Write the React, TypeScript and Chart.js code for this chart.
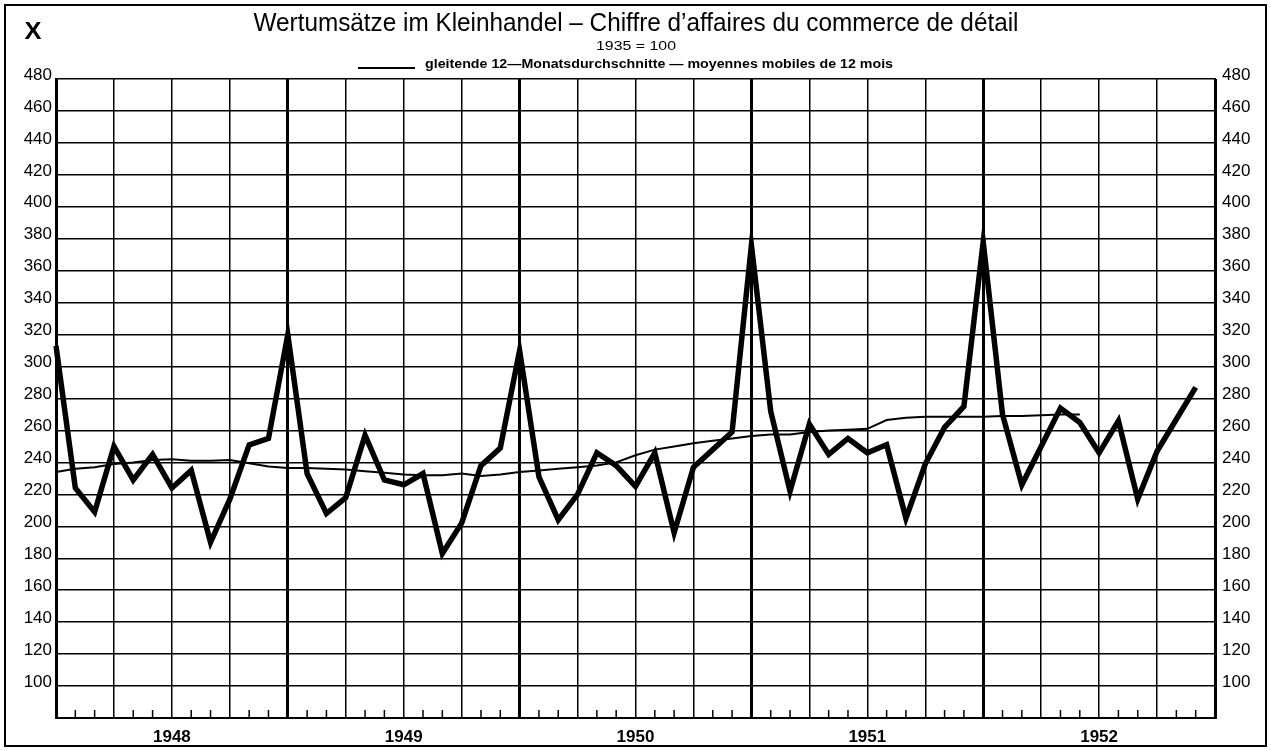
import React, { useEffect, useRef } from 'react';
import { Chart, registerables } from 'chart.js';

Chart.register(...registerables);

// ---- data -------------------------------------------------------------
const YEARS = ['1948', '1949', '1950', '1951', '1952'];
const MONTH_ABBR = ['Jan', 'Feb', 'Mär', 'Apr', 'Mai', 'Jun', 'Jul', 'Aug', 'Sep', 'Okt', 'Nov', 'Dez'];
// categories: Dec 1947 ... Dec 1952 (61 month positions)
const MONTHS: string[] = ['Dez 1947', ...YEARS.flatMap((y) => MONTH_ABBR.map((m) => `${m} ${y}`))];

// monthly retail turnover index (1935 = 100), Dec 1947 – Nov 1952
const RETAIL = [
  313, 224, 209, 250, 229, 245, 224, 235, 190, 217, 251, 255,
  320, 233, 208, 218, 257, 229, 226, 233, 183, 202, 238, 249,
  310, 231, 204, 220, 246, 238, 225, 246, 196, 237, 248, 259,
  376, 272, 222, 264, 245, 255, 246, 251, 205, 239, 262, 275,
  378, 270, 226, 250, 274, 265, 246, 266, 217, 247, 267, 287,
];

// 12-month moving average, Dec 1947 – May 1952
const MOVING_AVG = [
  234, 236, 237, 239, 240, 241.5, 242, 241, 241, 241.5, 239.5, 237.5,
  236.5, 236.5, 236, 235.5, 234.5, 233.5, 232.5, 232, 232, 233, 231.5, 232.5,
  234, 235, 236, 237, 238, 240, 244.5, 248, 250, 252, 253.5, 255,
  256.5, 257.5, 257.5, 259, 260, 260.5, 261, 266.5, 268, 268.5, 268.5, 268.5,
  268.5, 269, 269, 269.5, 270, 270,
];

const Y_MIN = 80;
const Y_MAX = 480;
const Y_STEP = 20;

const TITLE = 'Wertumsätze im Kleinhandel – Chiffre d’affaires du commerce de détail';
const SUBTITLE = '1935 = 100';
const LEGEND_TEXT = 'gleitende 12—Monatsdurchschnitte — moyennes mobiles de 12 mois';
const CORNER = 'X';

// ---- helpers ----------------------------------------------------------
const SANS = "'Liberation Sans', Arial, sans-serif";

function fitText(ctx: CanvasRenderingContext2D, text: string, x: number, y: number, width: number, font: string, align: 'left' | 'center' = 'center') {
  ctx.save();
  ctx.font = font;
  const w = ctx.measureText(text).width;
  ctx.translate(x, y);
  ctx.scale(width / w, 1);
  ctx.textAlign = align;
  ctx.textBaseline = 'alphabetic';
  ctx.fillStyle = '#000';
  ctx.fillText(text, 0, 0);
  ctx.restore();
}

const decorPlugin = {
  id: 'decor',
  beforeDraw(chart: any) {
    const ctx = chart.ctx as CanvasRenderingContext2D;
    ctx.save();
    ctx.fillStyle = '#fff';
    ctx.fillRect(0, 0, chart.width, chart.height);
    ctx.restore();
  },
  afterDraw(chart: any) {
    const ctx = chart.ctx as CanvasRenderingContext2D;
    const xs = chart.scales.x;
    const area = chart.chartArea;
    ctx.save();
    // month ticks inside the bottom of plot
    ctx.strokeStyle = '#000';
    ctx.lineWidth = 1.5;
    for (let i = 0; i < MONTHS.length; i++) {
      if (i % 3 === 0) continue;
      const px = xs.getPixelForTick(i);
      ctx.beginPath();
      ctx.moveTo(px, area.bottom - 8);
      ctx.lineTo(px, area.bottom);
      ctx.stroke();
    }
    // outer frame
    ctx.lineWidth = 2;
    ctx.strokeRect(5, 5, 1261, 741);
    // texts
    fitText(ctx, CORNER, 33, 39, 17, `bold 24px ${SANS}`);
    fitText(ctx, TITLE, 636, 31, 765, `26px ${SANS}`);
    fitText(ctx, SUBTITLE, 636, 50, 80, `12px ${SANS}`);
    // legend sample line
    ctx.lineWidth = 2;
    ctx.beginPath();
    ctx.moveTo(358, 68);
    ctx.lineTo(415, 68);
    ctx.stroke();
    fitText(ctx, LEGEND_TEXT, 425, 68, 468, `bold 13px ${SANS}`, 'left');
    ctx.restore();
  },
};

export default function App() {
  const ref = useRef<HTMLCanvasElement | null>(null);

  useEffect(() => {
    if (!ref.current) return;
    const tickFont = { family: SANS, size: 17 };
    const chart = new Chart(ref.current, {
      type: 'line',
      data: {
        labels: MONTHS,
        datasets: [
          {
            label: 'Wertumsätze',
            data: RETAIL,
            borderColor: '#000',
            borderWidth: 5.5,
            pointRadius: 0,
            tension: 0,
            borderJoinStyle: 'miter',
            borderCapStyle: 'butt',
            yAxisID: 'y',
          },
          {
            label: 'gleitende 12-Monatsdurchschnitte',
            data: MOVING_AVG,
            borderColor: '#000',
            borderWidth: 2,
            pointRadius: 0,
            tension: 0,
            yAxisID: 'y',
          },
        ],
      },
      options: {
        animation: false,
        responsive: false,
        layout: { padding: { top: 79, left: 0, right: 0, bottom: 0 } },
        plugins: {
          legend: { display: false },
          title: { display: false },
          tooltip: { enabled: false },
        },
        scales: {
          x: {
            type: 'category',
            offset: false,
            grid: {
              color: (c: any) => (c.index % 3 === 0 ? '#000' : 'rgba(0,0,0,0)'),
              lineWidth: (c: any) => (c.index % 12 === 0 ? 3 : 1.5),
              drawTicks: false,
            },
            border: { display: true, color: '#000', width: 2 },
            ticks: {
              autoSkip: false,
              maxRotation: 0,
              minRotation: 0,
              padding: 9,
              color: '#000',
              font: { family: SANS, size: 17, weight: 'bold' },
              callback: (_v: any, i: number) => (i % 12 === 6 ? YEARS[(i - 6) / 12] : ''),
            },
            afterFit: (s: any) => {
              s.height = 33;
            },
          },
          y: {
            position: 'left',
            min: Y_MIN,
            max: Y_MAX,
            ticks: {
              stepSize: Y_STEP,
              padding: 4,
              labelOffset: -4,
              color: '#000',
              font: tickFont,
              callback: (v: any) => (v === Y_MIN ? '' : String(v)),
            },
            grid: { color: '#000', lineWidth: 1.5, drawTicks: false },
            border: { display: true, color: '#000', width: 2.5 },
            afterFit: (s: any) => {
              s.width = 56;
            },
          },
          y2: {
            position: 'right',
            min: Y_MIN,
            max: Y_MAX,
            ticks: {
              stepSize: Y_STEP,
              padding: 7,
              labelOffset: -4,
              color: '#000',
              font: tickFont,
              callback: (v: any) => (v === Y_MIN ? '' : String(v)),
            },
            grid: { drawOnChartArea: false, drawTicks: false },
            border: { display: true, color: '#000', width: 2 },
            afterFit: (s: any) => {
              s.width = 56;
            },
          },
        },
      } as any,
      plugins: [decorPlugin],
    });
    return () => chart.destroy();
  }, []);

  return (
    <div style={{ position: 'fixed', left: 0, top: 0, width: 1271, height: 751, background: '#fff' }}>
      <canvas ref={ref} width={1271} height={751} style={{ display: 'block' }} />
    </div>
  );
}
